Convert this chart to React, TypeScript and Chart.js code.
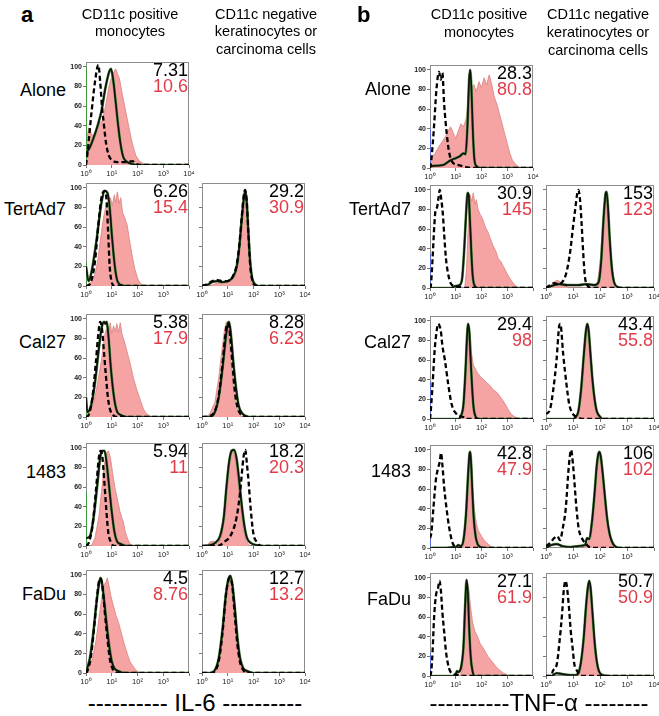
import React, { useEffect, useRef } from "react";
import { Chart, registerables } from "chart.js";
Chart.register(...registerables);

type Pt = [number, number];

// ---- axis ticks ----
const xTickExp = [0, 1, 2, 3, 4];
const supers = ["\u2070", "\u00b9", "\u00b2", "\u00b3", "\u2074"];
const yTicks = [0, 20, 40, 60, 80, 100];

// ---- labels ----
const rowLabels = ["Alone", "TertAd7", "Cal27", "1483", "FaDu"];
const il6MonoBlack = ["7.31", "6.26", "5.38", "5.94", "4.5"];
const il6MonoRed = ["10.6", "15.4", "17.9", "11", "8.76"];
const il6KerBlack = ["", "29.2", "8.28", "18.2", "12.7"];
const il6KerRed = ["", "30.9", "6.23", "20.3", "13.2"];
const tnfMonoBlack = ["28.3", "30.9", "29.4", "42.8", "27.1"];
const tnfMonoRed = ["80.8", "145", "98", "47.9", "61.9"];
const tnfKerBlack = ["", "153", "43.4", "106", "50.7"];
const tnfKerRed = ["", "123", "55.8", "102", "50.9"];

// spikes in first channel (green for IL-6 monocytes, blue for TNF monocytes)
const il6MonoSpike = [100, 25, 20, 55, 0];
const tnfMonoSpike = [40, 35, 38, 10, 24];

// ---- histograms: [log10 fluorescence, % of max] ----
// IL-6, CD11c+ monocytes
const il6MonoAloneRed: Pt[] = [[0,20],[0.1,38],[0.24,30],[0.37,33],[0.5,42],[0.63,45],[0.76,60],[0.89,80],[1.02,92],[1.15,98],[1.22,93],[1.3,88],[1.41,72],[1.54,55],[1.67,38],[1.8,22],[1.93,10],[2.07,4],[2.26,1],[2.6,0]];
const il6MonoAloneSolid: Pt[] = [[0,12],[0.15,18],[0.3,28],[0.45,40],[0.6,55],[0.75,78],[0.9,95],[0.97,98],[1.05,88],[1.15,65],[1.25,40],[1.35,20],[1.45,8],[1.6,3],[1.8,1],[2.0,0],[4,0]];
const il6MonoAloneDashed: Pt[] = [[0,0],[0.05,10],[0.2,50],[0.35,85],[0.48,102],[0.55,85],[0.62,60],[0.7,40],[0.78,22],[0.88,10],[1.0,5],[1.2,3],[1.6,3],[1.8,4],[1.95,1],[2.1,0],[4,0]];

const il6MonoTertRed: Pt[] = [[0,0],[0.2,4],[0.35,12],[0.45,25],[0.55,45],[0.65,65],[0.72,75],[0.8,85],[0.88,78],[0.95,90],[1.02,82],[1.1,93],[1.15,85],[1.22,96],[1.28,84],[1.35,90],[1.42,75],[1.5,70],[1.6,62],[1.7,45],[1.8,30],[1.9,17],[2.0,8],[2.1,3],[2.25,0]];
const il6MonoTertSolid: Pt[] = [[0,20],[0.1,5],[0.22,15],[0.4,45],[0.6,85],[0.73,97],[0.83,95],[0.92,80],[1.01,50],[1.12,20],[1.22,5],[1.37,1],[1.6,0],[4,0]];
const il6MonoTertDashed: Pt[] = [[0,0],[0.15,2],[0.35,25],[0.47,60],[0.6,90],[0.73,97],[0.79,90],[0.86,55],[0.92,20],[0.99,5],[1.1,0],[4,0]];

const il6MonoCalRed: Pt[] = [[0.05,0],[0.15,5],[0.3,15],[0.42,30],[0.52,45],[0.61,60],[0.68,75],[0.74,85],[0.8,90],[0.86,82],[0.94,96],[1.0,85],[1.07,93],[1.13,87],[1.2,95],[1.26,86],[1.33,96],[1.4,84],[1.48,78],[1.58,68],[1.71,55],[1.84,40],[1.97,28],[2.1,18],[2.23,8],[2.36,3],[2.56,0]];
const il6MonoCalSolid: Pt[] = [[0,20],[0.05,5],[0.2,12],[0.35,35],[0.5,70],[0.6,90],[0.7,97],[0.75,95],[0.8,97],[0.88,80],[0.95,55],[1.02,35],[1.1,18],[1.2,6],[1.35,2],[1.6,0],[4,0]];
const il6MonoCalDashed: Pt[] = [[0,0],[0.1,2],[0.25,20],[0.38,55],[0.48,85],[0.55,97],[0.62,90],[0.7,65],[0.78,40],[0.85,20],[0.93,8],[1.05,2],[1.2,0],[4,0]];

const il6Mono1483Red: Pt[] = [[0.2,0],[0.35,8],[0.5,30],[0.62,60],[0.72,85],[0.8,95],[0.87,97],[0.95,90],[1.03,75],[1.12,60],[1.2,50],[1.32,35],[1.4,28],[1.45,25],[1.52,15],[1.58,10],[1.68,3],[1.8,0]];
const il6Mono1483Solid: Pt[] = [[0,8],[0.15,10],[0.3,30],[0.45,65],[0.55,90],[0.62,97],[0.72,97],[0.8,85],[0.9,60],[1.0,35],[1.1,15],[1.2,5],[1.35,2],[1.6,0],[4,0]];
const il6Mono1483Dashed: Pt[] = [[0,0],[0.1,3],[0.25,20],[0.38,55],[0.5,90],[0.56,97],[0.63,92],[0.7,70],[0.78,40],[0.86,15],[0.95,5],[1.1,0],[4,0]];

const il6MonoFaDuRed: Pt[] = [[0,0],[0.1,5],[0.25,15],[0.4,35],[0.5,55],[0.6,75],[0.7,90],[0.78,93],[0.83,97],[0.9,88],[0.97,78],[1.05,70],[1.15,60],[1.28,50],[1.38,40],[1.48,30],[1.6,20],[1.7,12],[1.8,8],[1.93,3],[2.1,0]];
const il6MonoFaDuSolid: Pt[] = [[0,0],[0.05,5],[0.15,15],[0.28,40],[0.4,70],[0.5,90],[0.56,97],[0.62,92],[0.7,75],[0.8,50],[0.9,28],[1.0,12],[1.1,5],[1.25,2],[1.5,0],[4,0]];
const il6MonoFaDuDashed: Pt[] = [[0,0],[0.05,2],[0.18,15],[0.3,42],[0.42,75],[0.52,95],[0.58,96],[0.65,85],[0.73,62],[0.82,38],[0.92,15],[1.02,5],[1.15,1],[1.3,0],[4,0]];

// IL-6, CD11c- keratinocytes / carcinoma cells
const il6KerTertRed: Pt[] = [[0.3,0],[0.6,3],[1.0,4],[1.2,7],[1.35,18],[1.45,38],[1.55,68],[1.63,88],[1.68,95],[1.74,80],[1.8,50],[1.87,20],[1.95,5],[2.05,0]];
const il6KerTertSolid: Pt[] = [[0,0],[0.2,1],[0.4,4],[0.6,5],[0.8,4],[1.0,5],[1.2,9],[1.35,20],[1.45,40],[1.55,70],[1.63,90],[1.68,97],[1.74,85],[1.8,55],[1.87,25],[1.95,8],[2.05,2],[2.2,0],[4,0]];
const il6KerTertDashed: Pt[] = [[0,0],[0.2,2],[0.4,5],[0.6,6],[0.8,5],[1.0,5],[1.2,10],[1.35,22],[1.45,42],[1.55,72],[1.62,92],[1.67,98],[1.73,88],[1.8,55],[1.87,22],[1.95,6],[2.05,1],[2.2,0],[4,0]];

const il6KerCalRed: Pt[] = [[0.15,0],[0.3,3],[0.5,15],[0.65,40],[0.78,70],[0.88,90],[0.95,97],[1.02,92],[1.1,65],[1.2,35],[1.3,15],[1.4,5],[1.55,0]];
const il6KerCalSolid: Pt[] = [[0,0],[0.3,0],[0.5,5],[0.65,20],[0.8,50],[0.92,80],[1.0,95],[1.05,97],[1.12,85],[1.22,55],[1.32,30],[1.42,12],[1.55,4],[1.7,1],[1.9,0],[4,0]];
const il6KerCalDashed: Pt[] = [[0,0],[0.3,1],[0.5,6],[0.65,22],[0.8,55],[0.9,82],[0.98,95],[1.03,95],[1.1,80],[1.18,55],[1.28,25],[1.38,10],[1.5,3],[1.7,0],[4,0]];

const il6Ker1483Red: Pt[] = [[0.2,0],[0.3,4],[0.45,5],[0.6,2],[0.75,8],[0.85,25],[0.95,55],[1.05,85],[1.15,95],[1.22,97],[1.3,88],[1.4,65],[1.5,40],[1.6,18],[1.7,6],[1.85,0]];
const il6Ker1483Solid: Pt[] = [[0,0],[0.3,1],[0.5,3],[0.7,10],[0.85,30],[0.95,60],[1.05,85],[1.15,97],[1.25,98],[1.35,88],[1.45,65],[1.55,40],[1.65,20],[1.75,8],[1.9,3],[2.1,1],[2.4,0],[4,0]];
const il6Ker1483Dashed: Pt[] = [[0,0],[0.6,0],[0.9,5],[1.1,10],[1.35,30],[1.48,55],[1.61,90],[1.68,98],[1.74,85],[1.81,65],[1.9,35],[2.0,12],[2.13,4],[2.3,0],[4,0]];

const il6KerFaDuRed: Pt[] = [[0.45,0],[0.6,5],[0.75,25],[0.88,60],[0.98,85],[1.06,93],[1.12,95],[1.2,80],[1.3,50],[1.4,25],[1.5,8],[1.62,2],[1.75,0]];
const il6KerFaDuSolid: Pt[] = [[0,0],[0.3,0],[0.5,3],[0.65,15],[0.8,45],[0.92,78],[1.02,95],[1.1,99],[1.18,90],[1.28,65],[1.38,35],[1.48,15],[1.6,5],[1.75,2],[2.0,0],[4,0]];
const il6KerFaDuDashed: Pt[] = [[0,0],[0.35,0],[0.5,2],[0.65,12],[0.8,42],[0.93,80],[1.03,95],[1.1,97],[1.18,88],[1.27,60],[1.37,30],[1.47,12],[1.6,3],[1.8,0],[4,0]];

// TNF-alpha, CD11c+ monocytes
const tnfMonoAloneRed: Pt[] = [[0,10],[0.1,12],[0.2,15],[0.3,20],[0.4,24],[0.5,28],[0.6,32],[0.7,38],[0.8,42],[0.9,36],[1.0,30],[1.1,38],[1.2,45],[1.3,42],[1.4,50],[1.5,72],[1.6,80],[1.7,85],[1.8,78],[1.9,88],[2.0,82],[2.1,92],[2.2,85],[2.3,95],[2.4,85],[2.5,72],[2.6,65],[2.7,55],[2.8,45],[2.9,35],[3.0,25],[3.1,15],[3.2,8],[3.35,3],[3.5,0]];
const tnfMonoAloneSolid: Pt[] = [[0,2],[0.5,3],[0.8,8],[1.0,10],[1.16,12],[1.3,15],[1.38,14],[1.45,40],[1.52,90],[1.56,100],[1.61,80],[1.66,40],[1.72,10],[1.8,2],[2.0,0],[4,0]];
const tnfMonoAloneDashed: Pt[] = [[0,0],[0.05,8],[0.15,40],[0.25,80],[0.35,98],[0.42,90],[0.48,97],[0.55,65],[0.65,35],[0.75,15],[0.9,5],[1.1,3],[1.4,1],[1.6,0],[4,0]];

const tnfMonoTertRed: Pt[] = [[1.35,0],[1.42,20],[1.48,60],[1.52,88],[1.56,95],[1.62,88],[1.68,97],[1.75,85],[1.8,90],[1.87,80],[1.95,75],[2.05,70],[2.15,62],[2.25,57],[2.35,50],[2.45,43],[2.55,38],[2.65,30],[2.75,27],[2.85,22],[2.95,17],[3.05,12],[3.15,8],[3.25,4],[3.35,2],[3.45,0]];
const tnfMonoTertSolid: Pt[] = [[0,0],[0.8,0],[1.0,2],[1.15,3],[1.25,10],[1.33,40],[1.4,75],[1.46,97],[1.5,95],[1.55,70],[1.6,40],[1.65,15],[1.72,3],[1.85,0],[4,0]];
const tnfMonoTertDashed: Pt[] = [[0,0],[0.03,2],[0.1,30],[0.17,65],[0.22,80],[0.27,82],[0.33,92],[0.38,100],[0.43,92],[0.5,75],[0.55,55],[0.62,30],[0.7,15],[0.8,5],[0.95,2],[1.2,1],[1.4,0],[4,0]];

const tnfMonoCalRed: Pt[] = [[1.15,0],[1.25,5],[1.35,30],[1.42,70],[1.48,92],[1.52,95],[1.56,85],[1.6,70],[1.68,55],[1.75,52],[1.82,48],[1.9,45],[2.0,42],[2.1,40],[2.2,37],[2.3,35],[2.45,30],[2.6,27],[2.75,22],[2.85,18],[2.95,14],[3.05,9],[3.15,5],[3.3,2],[3.45,0]];
const tnfMonoCalSolid: Pt[] = [[0,0],[1.1,0],[1.2,3],[1.3,15],[1.38,50],[1.44,85],[1.48,97],[1.53,88],[1.58,60],[1.64,30],[1.7,10],[1.78,2],[1.9,0],[4,0]];
const tnfMonoCalDashed: Pt[] = [[0,0],[0.02,5],[0.1,35],[0.18,70],[0.25,88],[0.32,97],[0.37,95],[0.42,90],[0.48,75],[0.58,60],[0.71,35],[0.84,15],[1.03,5],[1.29,2],[1.4,0],[4,0]];

const tnfMono1483Red: Pt[] = [[1.2,0],[1.3,5],[1.4,30],[1.48,70],[1.53,90],[1.56,95],[1.6,85],[1.66,60],[1.72,40],[1.8,25],[1.87,18],[2.0,12],[2.1,8],[2.25,4],[2.4,1],[2.6,0]];
const tnfMono1483Solid: Pt[] = [[0,0],[1.0,1],[1.1,3],[1.2,2],[1.3,8],[1.4,35],[1.48,75],[1.53,95],[1.56,98],[1.6,85],[1.65,55],[1.7,30],[1.77,12],[1.85,4],[1.95,1],[2.1,0],[4,0]];
const tnfMono1483Dashed: Pt[] = [[0,10],[0.05,15],[0.13,40],[0.23,70],[0.32,82],[0.38,88],[0.43,97],[0.48,85],[0.55,62],[0.62,45],[0.75,20],[0.88,5],[1.0,1],[1.2,0],[4,0]];

const tnfMonoFaDuRed: Pt[] = [[1.15,0],[1.25,5],[1.33,40],[1.4,80],[1.45,95],[1.5,90],[1.57,72],[1.65,55],[1.75,45],[1.85,40],[1.95,33],[2.1,27],[2.25,20],[2.4,15],[2.55,10],[2.7,6],[2.85,3],[3.0,1],[3.15,0]];
const tnfMonoFaDuSolid: Pt[] = [[0,0],[0.9,0],[1.0,2],[1.05,5],[1.1,4],[1.2,8],[1.3,30],[1.37,75],[1.42,98],[1.47,85],[1.52,50],[1.58,20],[1.65,5],[1.75,0],[4,0]];
const tnfMonoFaDuDashed: Pt[] = [[0,0],[0.05,5],[0.1,25],[0.15,55],[0.2,75],[0.25,85],[0.3,88],[0.37,97],[0.42,88],[0.48,65],[0.55,45],[0.62,25],[0.7,12],[0.78,5],[0.9,2],[1.1,1],[1.2,0],[4,0]];

// TNF-alpha, CD11c- keratinocytes / carcinoma cells
const tnfKerTertRed: Pt[] = [[0.1,0],[0.25,5],[0.4,8],[0.55,6],[0.7,2],[0.9,0],[1.8,0],[1.9,5],[2.0,25],[2.1,65],[2.18,92],[2.22,97],[2.27,88],[2.34,55],[2.42,25],[2.5,8],[2.6,2],[2.7,0]];
const tnfKerTertSolid: Pt[] = [[0,0],[0.3,3],[0.5,4],[0.8,3],[1.2,3],[1.5,4],[1.8,3],[1.95,6],[2.05,30],[2.13,70],[2.2,95],[2.24,98],[2.29,85],[2.36,50],[2.44,20],[2.52,6],[2.65,1],[2.8,0],[4,0]];
const tnfKerTertDashed: Pt[] = [[0,0],[0.1,2],[0.3,5],[0.45,4],[0.6,6],[0.75,15],[0.9,38],[1.0,62],[1.08,80],[1.15,95],[1.2,100],[1.26,90],[1.32,65],[1.38,35],[1.44,12],[1.52,3],[1.7,0],[4,0]];

const tnfKerCalRed: Pt[] = [[1.1,0],[1.2,6],[1.3,28],[1.4,62],[1.48,88],[1.53,95],[1.58,90],[1.65,68],[1.72,45],[1.8,25],[1.88,10],[1.98,3],[2.1,0]];
const tnfKerCalSolid: Pt[] = [[0,0],[1.0,0],[1.1,2],[1.2,8],[1.3,30],[1.4,65],[1.48,90],[1.53,97],[1.58,90],[1.65,65],[1.72,40],[1.8,20],[1.88,8],[1.98,3],[2.1,0],[4,0]];
const tnfKerCalDashed: Pt[] = [[0,5],[0.15,10],[0.27,30],[0.39,60],[0.49,95],[0.53,97],[0.64,65],[0.76,35],[0.86,15],[1.0,5],[1.15,2],[1.4,0],[4,0]];

const tnfKer1483Red: Pt[] = [[1.4,0],[1.5,3],[1.6,8],[1.7,25],[1.8,55],[1.88,82],[1.94,95],[1.98,97],[2.03,92],[2.1,75],[2.18,52],[2.26,30],[2.35,15],[2.45,6],[2.55,2],[2.7,0]];
const tnfKer1483Solid: Pt[] = [[0,0],[0.2,3],[0.4,4],[0.6,2],[0.9,1],[1.2,2],[1.45,3],[1.52,10],[1.6,9],[1.7,26],[1.8,56],[1.88,84],[1.94,96],[1.98,98],[2.03,93],[2.1,76],[2.18,53],[2.26,31],[2.35,15],[2.45,6],[2.55,2],[2.7,0],[4,0]];
const tnfKer1483Dashed: Pt[] = [[0,2],[0.15,5],[0.3,10],[0.42,12],[0.52,8],[0.62,20],[0.73,40],[0.85,85],[0.93,100],[1.0,85],[1.13,40],[1.21,20],[1.33,10],[1.45,5],[1.6,1],[1.8,0],[4,0]];

const tnfKerFaDuRed: Pt[] = [[1.2,0],[1.3,12],[1.4,38],[1.48,68],[1.55,88],[1.6,95],[1.65,88],[1.72,62],[1.8,32],[1.88,12],[1.96,4],[2.1,0]];
const tnfKerFaDuSolid: Pt[] = [[0,0],[0.2,0],[0.4,3],[0.6,2],[0.9,1],[1.1,1],[1.2,3],[1.3,15],[1.4,40],[1.48,70],[1.55,90],[1.6,97],[1.65,90],[1.72,65],[1.8,35],[1.88,15],[1.96,5],[2.1,1],[2.3,0],[4,0]];
const tnfKerFaDuDashed: Pt[] = [[0,0],[0.2,0],[0.25,5],[0.4,12],[0.5,35],[0.6,65],[0.65,85],[0.72,97],[0.77,92],[0.85,70],[0.92,45],[0.98,30],[1.05,12],[1.1,8],[1.2,3],[1.35,0],[4,0]];

// ---- grouping ----
const il6Mono = [
  [il6MonoAloneRed, il6MonoAloneSolid, il6MonoAloneDashed],
  [il6MonoTertRed, il6MonoTertSolid, il6MonoTertDashed],
  [il6MonoCalRed, il6MonoCalSolid, il6MonoCalDashed],
  [il6Mono1483Red, il6Mono1483Solid, il6Mono1483Dashed],
  [il6MonoFaDuRed, il6MonoFaDuSolid, il6MonoFaDuDashed],
];
const il6Ker = [
  null,
  [il6KerTertRed, il6KerTertSolid, il6KerTertDashed],
  [il6KerCalRed, il6KerCalSolid, il6KerCalDashed],
  [il6Ker1483Red, il6Ker1483Solid, il6Ker1483Dashed],
  [il6KerFaDuRed, il6KerFaDuSolid, il6KerFaDuDashed],
];
const tnfMono = [
  [tnfMonoAloneRed, tnfMonoAloneSolid, tnfMonoAloneDashed],
  [tnfMonoTertRed, tnfMonoTertSolid, tnfMonoTertDashed],
  [tnfMonoCalRed, tnfMonoCalSolid, tnfMonoCalDashed],
  [tnfMono1483Red, tnfMono1483Solid, tnfMono1483Dashed],
  [tnfMonoFaDuRed, tnfMonoFaDuSolid, tnfMonoFaDuDashed],
];
const tnfKer = [
  null,
  [tnfKerTertRed, tnfKerTertSolid, tnfKerTertDashed],
  [tnfKerCalRed, tnfKerCalSolid, tnfKerCalDashed],
  [tnfKer1483Red, tnfKer1483Solid, tnfKer1483Dashed],
  [tnfKerFaDuRed, tnfKerFaDuSolid, tnfKerFaDuDashed],
];

const YW = 20;
const XH = 14;
const PT = 6;
const PR = 8;
const FONT = "Arial, 'Liberation Sans', Helvetica, sans-serif";

const boxPlugin = {
  id: "boxBorder",
  beforeDatasetsDraw(chart: any) {
    const { ctx, chartArea: a } = chart;
    ctx.save();
    ctx.strokeStyle = "#8c8c8c";
    ctx.lineWidth = 1;
    ctx.strokeRect(a.left + 0.5, a.top + 0.5, a.right - a.left - 1, a.bottom - a.top - 1);
    ctx.restore();
  },
};

type HistProps = {
  left: number; top: number; w: number; h: number;
  series: Pt[][]; spike: number; spikeColor: string;
  showY: boolean; lastX: number;
};

function Hist({ left, top, w, h, series, spike, spikeColor, showY, lastX }: HistProps) {
  const ref = useRef<HTMLCanvasElement>(null);
  useEffect(() => {
    if (!ref.current) return;
    const toXY = (arr: Pt[]) => arr.map(([e, y]) => ({ x: Math.pow(10, e), y }));
    const [red, solid, dashed] = series;
    const datasets: any[] = [
      {
        data: toXY(red), borderColor: "#d98080", borderWidth: 0.8,
        backgroundColor: "#f6a3a3", fill: "origin", tension: 0, pointRadius: 0, order: 6,
      },
    ];
    if (spike > 0) {
      datasets.push({
        data: toXY([[0, spike], [0.012, 0]]), borderColor: spikeColor, borderWidth: 1.4,
        fill: false, tension: 0, pointRadius: 0, order: 5,
      });
    }
    datasets.push({
      data: toXY(solid), borderColor: "#5a9446", borderWidth: 2.7, fill: false,
      cubicInterpolationMode: "monotone", pointRadius: 0, order: 4,
    });
    datasets.push({
      data: toXY(solid), borderColor: "#111", borderWidth: 1.7, fill: false,
      cubicInterpolationMode: "monotone", pointRadius: 0, order: 3,
    });
    datasets.push({
      data: toXY(dashed), borderColor: "#000", borderWidth: 2.3, borderDash: [5, 3], fill: false,
      cubicInterpolationMode: "monotone", pointRadius: 0, order: 1,
    });
    const chart = new Chart(ref.current, {
      type: "line",
      data: { datasets },
      plugins: [boxPlugin],
      options: {
        animation: false,
        responsive: false,
        maintainAspectRatio: false,
        events: [],
        layout: { padding: { top: PT, right: PR, left: 0, bottom: 0 } },
        plugins: { legend: { display: false }, tooltip: { enabled: false } },
        scales: {
          x: {
            type: "logarithmic", min: 1, max: 10000,
            afterBuildTicks: (s: any) => { s.ticks = xTickExp.map((e) => ({ value: Math.pow(10, e) })); },
            afterFit: (s: any) => { s.height = XH; s.paddingLeft = 0; s.paddingRight = 0; },
            ticks: {
              autoSkip: false, maxRotation: 0, minRotation: 0, padding: 1, color: "#222",
              font: { size: 7.5, family: FONT },
              callback: (v: any) => {
                const e = Math.round(Math.log10(Number(v)));
                return e > lastX ? "" : "10" + supers[e];
              },
            },
            grid: { display: true, drawOnChartArea: false, drawTicks: true, tickLength: 3, color: "#777" },
            border: { display: false },
          },
          y: {
            type: "linear", min: 0, max: 105,
            afterBuildTicks: (s: any) => { s.ticks = yTicks.map((v) => ({ value: v })); },
            afterFit: (s: any) => { s.width = YW; s.paddingTop = 0; s.paddingBottom = 0; },
            ticks: {
              display: showY, padding: 1, color: "#222",
              font: { size: 7, family: FONT, weight: "bold" },
            },
            grid: { display: true, drawOnChartArea: false, drawTicks: true, tickLength: 3, color: "#777" },
            border: { display: false },
          },
        },
      } as any,
    });
    return () => chart.destroy();
  }, []);
  const cw = YW + w + PR;
  const ch = PT + h + XH;
  return (
    <canvas
      ref={ref}
      width={cw}
      height={ch}
      style={{ position: "absolute", left: left - YW, top: top - PT, width: cw, height: ch }}
    />
  );
}

function Txt({ x, y, children, size, color = "#000", align = "left", bold = false, w = 200 }: any) {
  const leftPos = align === "right" ? x - w : align === "center" ? x - w / 2 : x;
  return (
    <div
      style={{
        position: "absolute", left: leftPos, top: y - size * 0.6, width: w,
        fontSize: size, lineHeight: `${size * 1.2}px`, fontFamily: FONT, color,
        textAlign: align, fontWeight: bold ? "bold" : "normal", whiteSpace: "pre",
      }}
    >
      {children}
    </div>
  );
}

export default function App() {
  const H = 103;
  const panels = [
    {
      cols: [{ left: 86, w: 103 }, { left: 202, w: 103 }],
      tops: [62, 183, 314, 443, 570],
      data: [il6Mono, il6Ker],
      black: [il6MonoBlack, il6KerBlack],
      red: [il6MonoRed, il6KerRed],
      spikes: il6MonoSpike, spikeColor: "#3f9a3f",
      lastX: [[4, 3, 3, 3, 3], [4, 4, 4, 4, 4]],
      labelRight: 66, labelY: [91, 210, 343, 473, 595],
    },
    {
      cols: [{ left: 430, w: 103 }, { left: 546, w: 108 }],
      tops: [65, 185, 316, 445, 573],
      data: [tnfMono, tnfKer],
      black: [tnfMonoBlack, tnfKerBlack],
      red: [tnfMonoRed, tnfKerRed],
      spikes: tnfMonoSpike, spikeColor: "#5a6ad8",
      lastX: [[4, 3, 3, 3, 3], [4, 4, 4, 3, 4]],
      labelRight: 411, labelY: [90, 210, 343, 472, 600],
    },
  ];

  const charts: any[] = [];
  const texts: any[] = [];
  panels.forEach((p, pi) => {
    rowLabels.forEach((lab, ri) => {
      texts.push(
        <Txt key={`l${pi}${ri}`} x={p.labelRight} y={p.labelY[ri]} size={18} align="right" w={70}>{lab}</Txt>
      );
      [0, 1].forEach((ci) => {
        const s = p.data[ci][ri];
        if (!s) return;
        const col = p.cols[ci];
        const top = p.tops[ri];
        charts.push(
          <Hist
            key={`c${pi}${ri}${ci}`}
            left={col.left} top={top} w={col.w} h={H}
            series={s as Pt[][]}
            spike={ci === 0 ? p.spikes[ri] : 0}
            spikeColor={p.spikeColor}
            showY={ci === 0}
            lastX={p.lastX[ci][ri]}
          />
        );
        const right = col.left + col.w - 1;
        texts.push(
          <Txt key={`b${pi}${ri}${ci}`} x={right} y={top + 9} size={18} align="right" w={60}>{p.black[ci][ri]}</Txt>
        );
        texts.push(
          <Txt key={`r${pi}${ri}${ci}`} x={right} y={top + 25} size={18} align="right" w={60} color="#e23b48">{p.red[ci][ri]}</Txt>
        );
      });
    });
  });

  return (
    <div style={{ position: "absolute", left: 0, top: 0, width: 659, height: 716, background: "#fff", overflow: "hidden" }}>
      {charts}
      {texts}
      <Txt x={21} y={15} size={22} bold>a</Txt>
      <Txt x={357} y={15} size={22} bold>b</Txt>
      <Txt x={130} y={15} size={14.5} align="center" w={160}>CD11c positive</Txt>
      <Txt x={130} y={32} size={14.5} align="center" w={160}>monocytes</Txt>
      <Txt x={266} y={15} size={14.5} align="center" w={160}>CD11c negative</Txt>
      <Txt x={266} y={32} size={14.5} align="center" w={160}>keratinocytes or</Txt>
      <Txt x={266} y={50} size={14.5} align="center" w={160}>carcinoma cells</Txt>
      <Txt x={479} y={15} size={14.5} align="center" w={160}>CD11c positive</Txt>
      <Txt x={479} y={33} size={14.5} align="center" w={160}>monocytes</Txt>
      <Txt x={598} y={15} size={14.5} align="center" w={160}>CD11c negative</Txt>
      <Txt x={598} y={33} size={14.5} align="center" w={160}>keratinocytes or</Txt>
      <Txt x={598} y={51} size={14.5} align="center" w={160}>carcinoma cells</Txt>
      <Txt x={195} y={703} size={24} align="center" w={260}>{"---------- IL-6 ----------"}</Txt>
      <Txt x={539} y={703} size={24} align="center" w={260}>{"----------TNF-\u03b1 --------"}</Txt>
    </div>
  );
}
